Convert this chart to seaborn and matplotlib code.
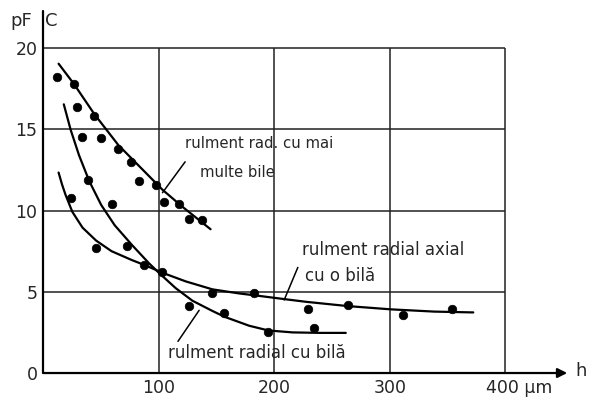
import pandas as pd
import matplotlib
matplotlib.use('Agg')
import matplotlib.pyplot as plt
import seaborn as sns

# h [um] / C [pF] - puncte masurate
h_mai_multe = [12.1, 26.8, 29.2, 44.0, 49.8, 65.2, 76.4, 82.9, 97.6, 104.9, 117.8, 126.5, 137.4]
c_mai_multe = [18.25, 17.8, 16.4, 15.8, 14.45, 13.8, 13.0, 11.8, 11.6, 10.55, 10.4, 9.5, 9.4]

h_radial = [33.4, 39.2, 59.3, 72.6, 103.4, 126.5, 156.6, 194.8, 234.5]
c_radial = [14.55, 11.9, 10.4, 7.8, 6.2, 4.1, 3.68, 2.54, 2.78]

h_axial = [23.9, 46.0, 87.3, 145.9, 182.8, 229.5, 263.7, 311.5, 354.0]
c_axial = [10.76, 7.67, 6.65, 4.94, 4.94, 3.96, 4.19, 3.58, 3.96]

# curbele trasate
h_curba_mai_multe = [13.5, 26.8, 44.5, 65.2, 85.8, 103.4, 120.7, 145.0]
c_curba_mai_multe = [19.04, 17.79, 15.93, 14.03, 12.55, 11.28, 10.23, 8.85]

h_curba_radial = [18.0, 23.9, 31.2, 40.1, 50.4, 62.0, 77.0, 91.8, 101.0, 114.9, 129.3,
                  146.6, 157.5, 178.4, 195.0, 216.0, 240.0, 262.0]
c_curba_radial = [16.54, 14.98, 13.4, 11.8, 10.34, 9.1, 7.88, 6.75, 6.12, 5.22, 4.45,
                  3.82, 3.45, 2.91, 2.62, 2.5, 2.47, 2.47]

h_curba_axial = [13.5, 16.5, 19.5, 25.4, 34.2, 46.0, 59.3, 77.0, 88.8, 103.4, 123.5, 146.6,
                 169.6, 186.8, 208.7, 228.0, 263.7, 300.8, 338.7, 372.3]
c_curba_axial = [12.34, 11.6, 10.97, 9.92, 8.95, 8.15, 7.5, 6.95, 6.62, 6.17, 5.64, 5.15,
                 4.9, 4.75, 4.55, 4.38, 4.12, 3.92, 3.78, 3.73]

y_ticks = [0, 5, 10, 15, 20]
x_ticks = [100, 200, 300]

puncte = pd.concat([
    pd.DataFrame({'h': h_mai_multe, 'C': c_mai_multe, 'tip': 'mai multe bile'}),
    pd.DataFrame({'h': h_radial, 'C': c_radial, 'tip': 'radial'}),
    pd.DataFrame({'h': h_axial, 'C': c_axial, 'tip': 'axial'}),
])
curbe = pd.concat([
    pd.DataFrame({'h': h_curba_mai_multe, 'C': c_curba_mai_multe, 'tip': 'mai multe bile'}),
    pd.DataFrame({'h': h_curba_radial, 'C': c_curba_radial, 'tip': 'radial'}),
    pd.DataFrame({'h': h_curba_axial, 'C': c_curba_axial, 'tip': 'axial'}),
])

sns.set_style('white')
fig = plt.figure(figsize=(5.93, 4.03), dpi=100)
ax = fig.add_axes([0.0725, 0.0744, 0.916, 0.907])

# grila
ax.hlines(y_ticks[1:], 0, 400, color='#222222', lw=1.1)
ax.vlines([100, 200, 300, 400], 0, 20, color='#222222', lw=1.1)

sns.lineplot(data=curbe, x='h', y='C', units='tip', estimator=None, sort=False,
             color='black', lw=1.6, ax=ax)
sns.scatterplot(data=puncte, x='h', y='C', color='black', s=38, edgecolor='black',
                zorder=5, ax=ax)

# axe cu sageti
ax.plot([0, 0], [0, 22.3], color='black', lw=1.6, clip_on=False)
ax.annotate('', xy=(456, 0), xytext=(-2, 0),
            arrowprops=dict(arrowstyle='-|>', color='black', lw=1.6, mutation_scale=14))
ax.text(-9, 21.65, 'pF', fontsize=13, ha='right', va='center')
ax.text(1.5, 21.65, 'C', fontsize=13, ha='left', va='center')
ax.text(461, 0.1, 'h', fontsize=13, ha='left', va='center')
ax.text(383, -0.95, '400 \u03bcm', fontsize=12.5, ha='left', va='center')

# etichete
ax.text(122.5, 14.1, 'rulment rad. cu mai', fontsize=10.7, va='center')
ax.text(135.5, 12.35, 'multe bile', fontsize=10.7, va='center')
ax.plot([123, 103.4], [13.0, 11.1], color='black', lw=1.1)

ax.text(224, 7.6, 'rulment radial axial', fontsize=12, va='center')
ax.text(227, 5.96, 'cu o bilă', fontsize=12, va='center')
ax.plot([220.5, 208.7], [6.5, 4.5], color='black', lw=1.1)

ax.text(108.5, 1.25, 'rulment radial cu bilă', fontsize=12, va='center')
ax.plot([116.8, 135.1], [1.95, 3.86], color='black', lw=1.1)

ax.set_xlim(0, 470)
ax.set_ylim(0, 22.5)
ax.set_xticks(x_ticks)
ax.set_xticklabels([str(t) for t in x_ticks], fontsize=12.5)
ax.set_yticks(y_ticks)
ax.set_yticklabels([str(t) for t in y_ticks], fontsize=12.5)
ax.tick_params(length=0, pad=4)
ax.set_xlabel('')
ax.set_ylabel('')
for s in ax.spines.values():
    s.set_visible(False)
if ax.get_legend() is not None:
    ax.get_legend().remove()

fig.savefig('out.png', dpi=100)
